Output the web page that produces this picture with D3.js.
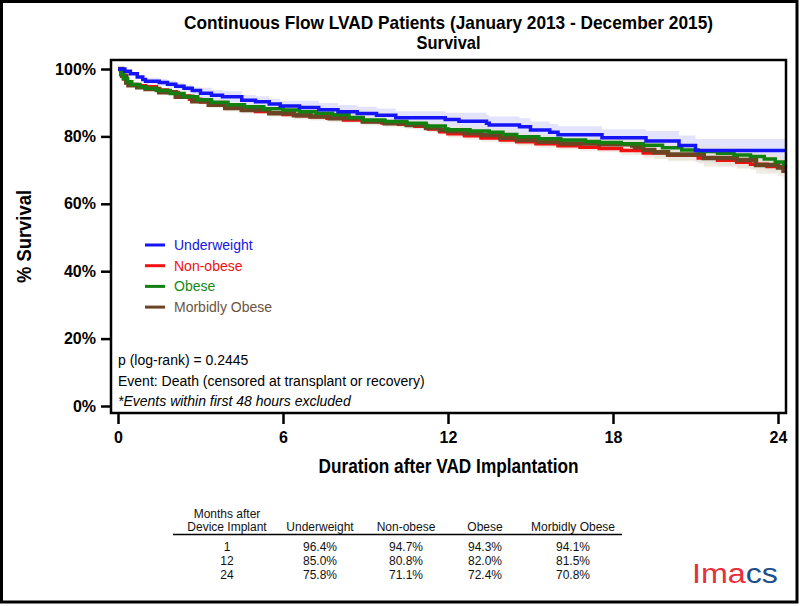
<!DOCTYPE html>
<html><head><meta charset="utf-8">
<script src="https://cdn.jsdelivr.net/npm/d3@7/dist/d3.min.js"></script>
<style>
body{margin:0;background:#fff;}
svg{display:block;}
.narrow{font-family:"Liberation Sans Narrow","Arial Narrow","Liberation Sans",Arial,sans-serif;font-weight:bold;}
.reg{font-family:"Liberation Sans",Arial,sans-serif;}
</style></head>
<body>
<svg id="c" width="800" height="606"></svg>
<script>
// ---------- DATA ----------
const titleLines = ["Continuous Flow LVAD Patients (January 2013 - December 2015)", "Survival"];
const xTicks = [0, 6, 12, 18, 24];
const yTicks = [0, 20, 40, 60, 80, 100];
const seriesNames = ["Underweight", "Non-obese", "Obese", "Morbidly Obese"];

// [month, % survival] step points (KM curves)
const underweight = [[0,100],[0.25,99.3],[0.45,98.6],[0.7,97.6],[0.9,96.9],[1.0,96.4],[1.5,96.0],[1.8,95.5],[2.1,94.9],[2.4,94.3],[2.7,93.6],[3.0,92.8],[3.4,92.2],[3.8,91.8],[4.5,90.7],[5.0,90.3],[5.5,89.6],[5.9,89.0],[6.6,88.6],[7.3,87.9],[8.0,87.3],[8.7,86.8],[9.4,86.3],[10.1,85.5],[11.9,85.0],[12.4,84.5],[13.4,83.9],[13.5,83.4],[14.6,82.9],[15.0,81.9],[15.7,81.2],[16.0,80.5],[17.6,79.6],[19.2,78.6],[20.4,77.3],[21.0,75.8]];
const nonObese = [[0,100],[0.1,98.4],[0.2,97.0],[0.3,96.0],[0.45,95.4],[0.7,95.0],[1.0,94.7],[1.4,93.8],[1.8,93.0],[2.2,92.0],[2.6,91.0],[3.0,90.2],[3.4,89.4],[3.9,88.6],[4.5,87.9],[5.0,87.4],[5.5,87.0],[6.0,86.5],[6.5,86.1],[7.0,85.8],[7.6,85.4],[8.2,84.9],[8.9,84.4],[9.6,84.0],[10.2,83.6],[10.8,83.0],[11.3,82.2],[11.7,81.4],[12.0,80.8],[12.6,80.2],[13.2,79.5],[13.9,78.9],[14.5,78.4],[15.2,77.8],[16.0,77.2],[16.8,76.8],[17.5,76.4],[18.3,75.8],[19.1,75.1],[20.0,74.4],[21.1,73.6],[21.8,72.9],[22.5,72.3],[23.0,71.7],[23.6,71.1],[24.2,70.5]];
const obese = [[0,100],[0.1,98.5],[0.2,97.2],[0.35,96.2],[0.5,95.4],[0.8,94.7],[1.0,94.3],[1.4,93.6],[1.9,92.7],[2.4,91.8],[2.9,90.9],[3.4,90.1],[4.0,89.4],[4.6,88.8],[5.3,88.2],[6.0,87.8],[6.6,87.3],[7.2,86.9],[7.8,86.4],[8.4,85.6],[8.9,84.9],[9.7,84.4],[10.5,83.9],[11.2,83.1],[11.9,82.2],[12.0,82.0],[12.8,81.6],[13.5,81.2],[14.0,80.6],[14.5,79.9],[15.3,79.3],[16.1,78.9],[17.0,78.5],[17.5,78.2],[18.3,77.8],[19.1,77.4],[19.8,76.6],[20.5,76.0],[21.1,75.5],[21.8,75.0],[22.4,74.5],[23.0,74.0],[23.5,73.3],[23.9,72.4],[24.2,71.7]];
const morbidlyObese = [[0,100],[0.15,98.0],[0.3,96.0],[0.38,95.2],[0.7,94.6],[1.0,94.1],[1.5,93.1],[2.1,91.8],[2.7,90.4],[3.3,89.4],[3.9,88.4],[4.5,87.8],[5.5,86.9],[6.4,86.3],[7.0,85.9],[7.7,85.4],[8.9,84.4],[9.7,83.9],[10.5,83.4],[11.2,82.5],[11.7,81.9],[12.0,81.5],[12.6,80.9],[13.2,80.4],[13.9,79.6],[14.5,78.9],[15.3,78.4],[16.1,77.9],[17.5,77.7],[18.7,77.3],[18.8,76.8],[19.1,76.0],[19.5,75.3],[20.0,74.6],[21.3,73.6],[22.5,73.0],[23.2,71.5],[24.0,70.8],[24.2,69.8]];

// confidence band half-widths (% points), by month knot
const ciMonths = [0, 1, 3, 6, 12, 18, 21];
const ciUnderweight = [0, 1.0, 1.6, 2.0, 2.5, 3.0, 3.4];
const ciNonObese = [0, 0.5, 0.7, 0.9, 1.1, 1.4, 1.7];
const ciObese = [0, 0.6, 0.8, 1.0, 1.3, 1.6, 2.0];
const ciMorbidlyObese = [0, 0.7, 1.0, 1.2, 1.5, 2.0, 2.6];

const legendLabels = seriesNames;
const annotations = ["p (log-rank) = 0.2445", "Event: Death (censored at transplant or recovery)", "*Events within first 48 hours excluded"];

const tableHeaderRow = ["Underweight", "Non-obese", "Obese", "Morbidly Obese"];
const tableMonths = [1, 12, 24];
const tableUnderweight = ["96.4%", "85.0%", "75.8%"];
const tableNonObese = ["94.7%", "80.8%", "71.1%"];
const tableObese = ["94.3%", "82.0%", "72.4%"];
const tableMorbidlyObese = ["94.1%", "81.5%", "70.8%"];

// ---------- DRAW ----------
const svg = d3.select("#c");
const frame = {l:111, t:60, r:786, b:413};
const x = d3.scaleLinear().domain([0,24]).range([118,778]);
const y = d3.scaleLinear().domain([0,100]).range([406,69]);
const xEnd = x.invert(frame.r);

svg.append("rect").attr("x",1.5).attr("y",1.5).attr("width",795.5).attr("height",600.5)
  .attr("fill","#fff").attr("stroke","#000").attr("stroke-width",3);

const titleW = [529, 64];
svg.selectAll(".title").data(titleLines).join("text")
  .attr("class","narrow").attr("x",(frame.l+frame.r)/2).attr("y",(d,i)=>29+i*20)
  .attr("text-anchor","middle").attr("font-size",19)
  .attr("textLength",(d,i)=>titleW[i]).attr("lengthAdjust","spacingAndGlyphs").text(d=>d);

const series = [
  {name:seriesNames[1], data:nonObese, ci:ciNonObese, color:"#f21010", band:"rgba(230,224,212,0.55)", w:3.5},
  {name:seriesNames[3], data:morbidlyObese, ci:ciMorbidlyObese, color:"#6b4423", band:"rgba(230,224,212,0.55)", w:4.5},
  {name:seriesNames[2], data:obese, ci:ciObese, color:"#118011", band:"rgba(230,224,212,0.45)", w:3.5},
  {name:seriesNames[0], data:underweight, ci:ciUnderweight, color:"#1414f5", band:"rgba(215,215,252,0.7)", w:3.5}
];

svg.append("clipPath").attr("id","pc").append("rect")
  .attr("x",frame.l).attr("y",frame.t).attr("width",frame.r-frame.l).attr("height",frame.b-frame.t);
const plot = svg.append("g").attr("clip-path","url(#pc)");

function ciAt(ci, m){ let v = ci[0]; ciMonths.forEach((k,i)=>{ if (m>=k) v = ci[i]; }); return v; }

series.slice().reverse().forEach(s=>{
  const pts = s.data.concat([[xEnd, s.data[s.data.length-1][1]]]);
  const area = d3.area().curve(d3.curveStepAfter)
    .x(d=>x(d[0])).y0(d=>y(d[1]-ciAt(s.ci,d[0]))).y1(d=>y(Math.min(100,d[1]+ciAt(s.ci,d[0]))));
  plot.append("path").attr("d",area(pts)).attr("fill",s.band);
});
const line = d3.line().curve(d3.curveStepAfter).x(d=>x(d[0])).y(d=>y(d[1]));
series.forEach(s=>{
  const pts = s.data.concat([[xEnd, s.data[s.data.length-1][1]]]);
  plot.append("path").attr("d",line(pts)).attr("fill","none").attr("stroke",s.color)
    .attr("stroke-width",s.w).attr("stroke-linejoin","miter");
});

svg.append("rect").attr("x",frame.l).attr("y",frame.t).attr("width",frame.r-frame.l).attr("height",frame.b-frame.t)
  .attr("fill","none").attr("stroke","#000").attr("stroke-width",2.5);

const yAxis = svg.append("g").attr("transform",`translate(${frame.l},0)`)
  .call(d3.axisLeft(y).tickValues(yTicks).tickSize(10).tickSizeOuter(0).tickPadding(5).tickFormat(d=>d+"%"));
yAxis.select(".domain").remove();
yAxis.selectAll("line").attr("stroke-width",2.5);
yAxis.selectAll("text").attr("font-family","Liberation Sans, Arial, sans-serif").attr("font-weight","bold").attr("font-size",16).attr("fill","#000");

const xAxis = svg.append("g").attr("transform",`translate(0,${frame.b})`)
  .call(d3.axisBottom(x).tickValues(xTicks).tickSize(11).tickSizeOuter(0).tickPadding(8));
xAxis.select(".domain").remove();
xAxis.selectAll("line").attr("stroke-width",2.5);
xAxis.selectAll("text").attr("font-family","Liberation Sans, Arial, sans-serif").attr("font-weight","bold").attr("font-size",16).attr("fill","#000");

svg.append("text").attr("class","narrow").attr("font-size",20)
  .attr("transform",`translate(31,${(frame.t+frame.b)/2}) rotate(-90)`).attr("text-anchor","middle")
  .attr("textLength",93).attr("lengthAdjust","spacingAndGlyphs").text("% Survival");
svg.append("text").attr("class","narrow").attr("font-size",20).attr("x",(frame.l+frame.r)/2).attr("y",473)
  .attr("text-anchor","middle").attr("textLength",260).attr("lengthAdjust","spacingAndGlyphs").text("Duration after VAD Implantation");

const legendColors = {"Underweight":"#1414f5","Non-obese":"#f21010","Obese":"#118011","Morbidly Obese":"#6b4423"};
const legendText = {"Underweight":"#1414e0","Non-obese":"#f21010","Obese":"#168a16","Morbidly Obese":"#6b5540"};
const lg = svg.append("g");
legendLabels.forEach((n,i)=>{
  const yy = 245 + i*20.7;
  lg.append("line").attr("x1",145).attr("x2",165).attr("y1",yy).attr("y2",yy).attr("stroke",legendColors[n]).attr("stroke-width",3);
  lg.append("text").attr("class","reg").attr("x",174).attr("y",yy+5).attr("font-size",14).attr("fill",legendText[n]).text(n);
});

annotations.forEach((t,i)=>{
  svg.append("text").attr("class","reg").attr("x",118).attr("y",365+i*20.5).attr("font-size",14)
    .attr("font-style", i===2?"italic":"normal").attr("fill","#000").text(t);
});

const colX = [227, 320, 406, 485, 573];
const tg = svg.append("g").attr("class","reg").attr("font-size",12).attr("text-anchor","middle").attr("fill","#111");
tg.append("text").attr("x",colX[0]).attr("y",518).text("Months after");
tg.append("text").attr("x",colX[0]).attr("y",531).text("Device Implant");
tableHeaderRow.forEach((h,i)=> tg.append("text").attr("x",colX[i+1]).attr("y",531).text(h));
svg.append("line").attr("x1",173).attr("x2",622).attr("y1",534.5).attr("y2",534.5).attr("stroke","#000").attr("stroke-width",1.5);
const cols = [tableUnderweight, tableNonObese, tableObese, tableMorbidlyObese];
tableMonths.forEach((m,r)=>{
  const yy = 551 + r*14;
  tg.append("text").attr("x",colX[0]).attr("y",yy).text(m);
  cols.forEach((c,i)=> tg.append("text").attr("x",colX[i+1]).attr("y",yy).text(c[r]));
});

const logo = svg.append("text").attr("x",692).attr("y",583).attr("font-family","Liberation Sans, Arial, sans-serif")
  .attr("font-size",27).attr("textLength",86).attr("lengthAdjust","spacingAndGlyphs");
logo.append("tspan").attr("fill","#e8303c").text("Ima");
logo.append("tspan").attr("fill","#1e4d8c").text("cs");
</script>
</body></html>
